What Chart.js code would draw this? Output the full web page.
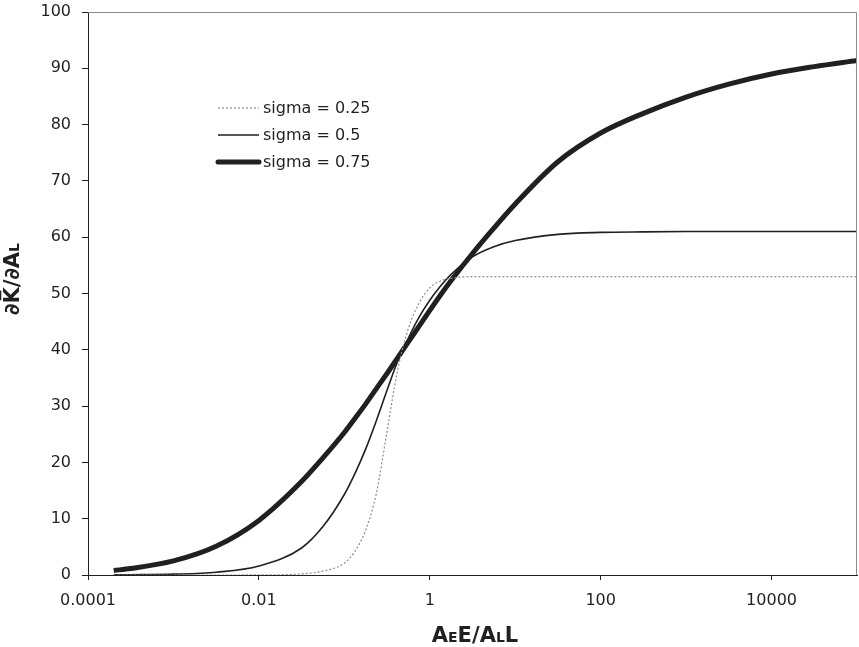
<!DOCTYPE html>
<html><head><meta charset="utf-8">
<script src="https://cdn.jsdelivr.net/npm/chart.js@4/dist/chart.umd.min.js"></script>
<style>html,body{margin:0;padding:0;background:#fff}#wrap{width:859px;height:647px;position:relative}</style>
</head><body><div id="wrap"><canvas id="c" width="859" height="647"></canvas></div>
<script>
// x = AeE/AlL ratio (log axis)
const ratioX = [0.0002, 0.000316, 0.001, 0.00316, 0.01, 0.0316, 0.0562, 0.1, 0.133, 0.178, 0.237, 0.316, 0.422, 0.562, 0.75, 1, 1.33, 1.78, 3.16, 5.62, 10, 31.6, 100, 316, 1000, 3160, 10000, 31600, 100000];
const sigma025 = [0, 0, 0, 0, 0.02, 0.2, 0.7, 2.1, 4.2, 8.0, 14.5, 25.5, 36.5, 43.8, 48.3, 51.0, 52.2, 52.7, 53.0, 53.0, 53.0, 53.0, 53.0, 53.0, 53.0, 53.0, 53.0, 53.0, 53.0];
const sigma05  = [0.03, 0.05, 0.15, 0.5, 1.6, 4.8, 8.6, 14.3, 18.0, 22.4, 27.4, 32.8, 38.0, 42.1, 45.8, 48.8, 51.3, 53.4, 56.5, 58.3, 59.4, 60.5, 60.85, 60.95, 61.0, 61.0, 61.0, 61.0, 61.0];
const sigma075 = [0.8, 1.15, 2.5, 5.1, 9.7, 16.6, 20.8, 25.3, 27.8, 30.4, 33.1, 35.8, 38.6, 41.4, 44.2, 47.0, 49.7, 52.3, 57.1, 61.6, 65.9, 73.4, 78.5, 82.0, 84.9, 87.2, 89.0, 90.3, 91.4];
const seriesLabels = ['sigma = 0.25', 'sigma = 0.5', 'sigma = 0.75'];
const xTickValues = [0.0001, 0.01, 1, 100, 10000];
const xTickLabels = ['0.0001', '0.01', '1', '100', '10000'];
const yTickStep = 10;

const pts = arr => ratioX.map((x, i) => ({x: x, y: arr[i]}));
const FONT = "'DejaVu Sans', Verdana, sans-serif";
const INK = '#231f20';

const extras = {
  id: 'extras',
  afterDatasetsDraw(chart) {
    const ctx = chart.ctx, a = chart.chartArea;
    ctx.save();
    // top & right frame
    ctx.strokeStyle = '#8a8a8a'; ctx.lineWidth = 1;
    ctx.beginPath();
    ctx.moveTo(a.left, a.top + 0.5); ctx.lineTo(a.right - 0.5, a.top + 0.5); ctx.lineTo(a.right - 0.5, a.bottom);
    ctx.stroke();
    // legend inside plot
    const rows = [108, 135, 162];
    chart.data.datasets.forEach((ds, i) => {
      const y = rows[i];
      ctx.strokeStyle = ds.borderColor; ctx.lineWidth = ds.borderWidth;
      ctx.setLineDash(ds.borderDash || []);
      ctx.lineCap = ds.borderWidth > 3 ? 'round' : 'butt';
      ctx.beginPath(); ctx.moveTo(218, y); ctx.lineTo(259, y); ctx.stroke();
      ctx.setLineDash([]);
      ctx.fillStyle = INK; ctx.font = '16px ' + FONT;
      ctx.textAlign = 'left'; ctx.textBaseline = 'alphabetic';
      ctx.fillText(ds.label, 263, y + 5);
    });
    // axis titles with small-cap subscripts
    const drawParts = (parts, cx, baseY) => {
      let w = 0;
      parts.forEach(p => { ctx.font = 'bold ' + p[1] + 'px ' + FONT; w += ctx.measureText(p[0]).width; });
      let x = cx - w / 2;
      parts.forEach(p => {
        ctx.font = 'bold ' + p[1] + 'px ' + FONT;
        const pw = ctx.measureText(p[0]).width;
        ctx.fillText(p[0], x, baseY);
        if (p[2]) { // macron bar over the letter
          ctx.fillRect(x + pw * 0.2, baseY - p[1] * 0.92, pw * 0.6, 1.6);
        }
        x += pw;
      });
    };
    ctx.fillStyle = INK; ctx.textAlign = 'left'; ctx.textBaseline = 'alphabetic';
    drawParts([['A', 21], ['E', 14], ['E', 21], ['/', 21], ['A', 21], ['L', 14], ['L', 21]], 475, 642);
    ctx.save();
    ctx.translate(19, 279); ctx.rotate(-Math.PI / 2);
    drawParts([['\u2202', 21], ['K', 21, true], ['/', 21], ['\u2202', 21], ['A', 21], ['L', 14]], 0, 0);
    ctx.restore();
    ctx.restore();
  }
};

new Chart(document.getElementById('c'), {
  type: 'line',
  data: {
    datasets: [
      {label: seriesLabels[0], data: pts(sigma025), borderColor: '#8c8c8c', borderWidth: 1.2, borderDash: [2, 2]},
      {label: seriesLabels[1], data: pts(sigma05), borderColor: INK, borderWidth: 1.6},
      {label: seriesLabels[2], data: pts(sigma075), borderColor: INK, borderWidth: 5}
    ]
  },
  options: {
    responsive: false, animation: false, devicePixelRatio: 1,
    elements: {point: {radius: 0}, line: {cubicInterpolationMode: 'monotone', fill: false}},
    layout: {padding: {top: 12, right: 2, left: 0, bottom: 0}},
    plugins: {legend: {display: false}, tooltip: {enabled: false}},
    scales: {
      x: {
        type: 'logarithmic', min: 0.0001, max: 100000, position: 'bottom',
        afterBuildTicks: s => { s.ticks = xTickValues.map(v => ({value: v})); },
        afterFit: s => { s.height = 72; s.paddingLeft = 0; s.paddingRight = 0; },
        ticks: {
          autoSkip: false, maxRotation: 0, color: INK, font: {size: 16, family: FONT}, padding: 11,
          callback: (v) => { const i = xTickValues.indexOf(v); return i >= 0 ? xTickLabels[i] : ''; }
        },
        grid: {drawOnChartArea: false, drawTicks: true, tickLength: 5, color: INK},
        border: {display: true, color: INK, width: 1}
      },
      y: {
        type: 'linear', min: 0, max: 100,
        afterFit: s => { s.width = 88; s.paddingTop = 0; s.paddingBottom = 0; },
        ticks: {stepSize: yTickStep, color: INK, font: {size: 16, family: FONT}, padding: 11},
        grid: {drawOnChartArea: false, drawTicks: true, tickLength: 6, color: INK},
        border: {display: true, color: INK, width: 1}
      }
    }
  },
  plugins: [extras]
});
</script></body></html>
